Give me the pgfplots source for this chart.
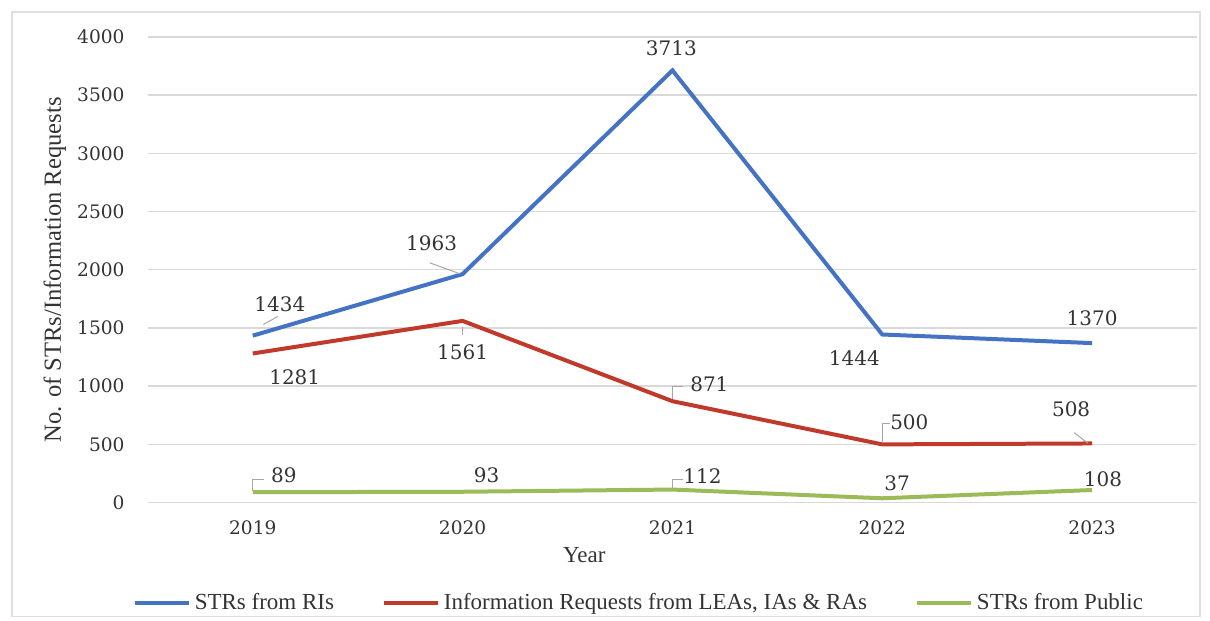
\documentclass[border=0pt]{standalone}
\usepackage{fontspec}
\setmainfont{Liberation Serif}
\newfontfamily\numfont{DejaVu Serif}
\usepackage{pgfplots}
\pgfplotsset{compat=1.18}
\usetikzlibrary{calc}
\definecolor{cblue}{HTML}{4472C4}
\definecolor{cred}{HTML}{C0392B}
\definecolor{cgreen}{HTML}{9BBB59}
\definecolor{lbl}{HTML}{333333}
\definecolor{gridc}{HTML}{D9D9D9}
\tikzset{
  lab/.style={font=\numfont\fontsize{10}{12}\selectfont, text=lbl, inner sep=0pt},
  lead/.style={draw=gray!70, line width=0.5pt},
}
\begin{document}
\begin{tikzpicture}
\begin{axis}[name=ax, scale only axis, width=525pt, height=233pt,
  xmin=2018.5, xmax=2023.5, ymin=0, ymax=4000, clip=false,
  xtick={2019,2020,2021,2022,2023}, xticklabels={2019,2020,2021,2022,2023},
  ytick={0,500,...,4000},
  axis line style={draw=none}, major tick style={draw=none},
  ymajorgrids, grid style={gridc, line width=0.7pt},
  /pgf/number format/assume math mode=true,
  /pgf/number format/1000 sep={},
  ticklabel style={font=\numfont\fontsize{9.3}{11}\selectfont, text=lbl},
  yticklabel style={anchor=east, inner sep=0pt, xshift=-11.5pt},
  xticklabel style={anchor=north, inner sep=0pt, yshift=-9pt},
  legend style={at={(rel axis cs:0.469,-0.2146)}, anchor=center, draw=none,
    font=\fontsize{11.5}{13}\selectfont, text=lbl,
    /tikz/every even column/.append style={column sep=22pt}},
  legend columns=3,
  legend image code/.code={\draw[#1, line width=2pt] (0pt,0pt) -- (27pt,0pt);},
]
\addplot[cblue, line width=2pt] coordinates {(2019,1434) (2020,1963) (2021,3713) (2022,1444) (2023,1370)};
\addlegendentry{STRs from RIs}
\addplot[cred, line width=2pt] coordinates {(2019,1281) (2020,1561) (2021,871) (2022,500) (2023,508)};
\addlegendentry{Information Requests from LEAs, IAs \& RAs}
\addplot[cgreen, line width=2pt] coordinates {(2019,89) (2020,93) (2021,112) (2022,37) (2023,108)};
\addlegendentry{STRs from Public}

% leader lines
\draw[lead] (axis cs:2019.05,1530) -- (axis cs:2019.12,1600);
\draw[lead] (axis cs:2019.843,2060) -- (axis cs:2019.986,1966);
\draw[lead] (axis cs:2020,1511) -- (axis cs:2020,1440);
\draw[lead] (axis cs:2021,893) -- (axis cs:2021,996) -- (axis cs:2021.052,996);
\draw[lead] (axis cs:2022,510) -- (axis cs:2022,678) -- (axis cs:2022.038,678);
\draw[lead] (axis cs:2022.914,601) -- (axis cs:2022.98,510);
\draw[lead] (axis cs:2019,100) -- (axis cs:2019,200) -- (axis cs:2019.052,200);
\draw[lead] (axis cs:2021,122) -- (axis cs:2021,200) -- (axis cs:2021.052,200);

% data labels
\node[lab] at (axis cs:2019.129,1700) {1434};
\node[lab] at (axis cs:2019.852,2232) {1963};
\node[lab] at (axis cs:2020.995,3906) {3713};
\node[lab] at (axis cs:2021.867,1245) {1444};
\node[lab] at (axis cs:2023.0,1588) {1370};
\node[lab] at (axis cs:2019.2,1073) {1281};
\node[lab] at (axis cs:2020.0,1288) {1561};
\node[lab] at (axis cs:2021.176,1013) {871};
\node[lab] at (axis cs:2022.129,687) {500};
\node[lab] at (axis cs:2022.9,798) {508};
\node[lab] at (axis cs:2019.148,232) {89};
\node[lab] at (axis cs:2020.114,232) {93};
\node[lab] at (axis cs:2021.143,232) {112};
\node[lab] at (axis cs:2022.071,163) {37};
\node[lab] at (axis cs:2023.052,197) {108};

% axis titles
\node[font=\fontsize{11.5}{13}\selectfont, text=lbl, yshift=-26.5pt] at (rel axis cs:0.416,0) {Year};
\node[font=\fontsize{12.3}{14}\selectfont, text=lbl, xshift=-46.5pt, rotate=90] at (rel axis cs:0,0.5) {No. of STRs/Information Requests};
\end{axis}
\draw[gray!25, line width=0.6pt] ($(ax.south west)+(-68pt,-57pt)$) rectangle ($(ax.north east)+(1.5pt,12.5pt)$);
\path[use as bounding box] ($(ax.south west)+(-74pt,-58pt)$) rectangle ($(ax.north east)+(6.5pt,18.5pt)$);
\end{tikzpicture}
\end{document}
